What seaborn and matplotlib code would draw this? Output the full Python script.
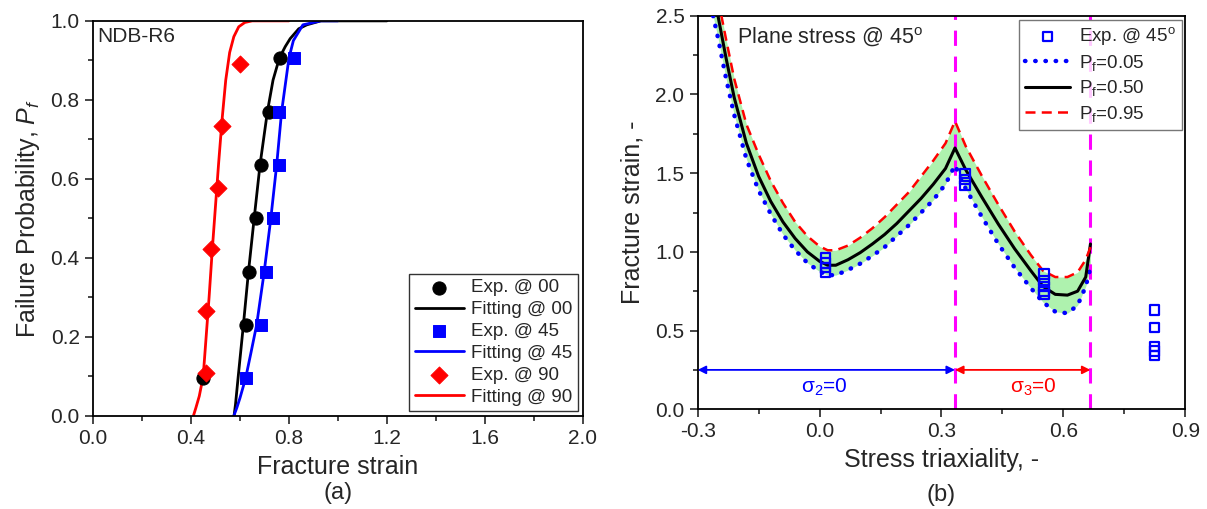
import numpy as np
import matplotlib
matplotlib.use('Agg')
import matplotlib.pyplot as plt
import seaborn as sns
from matplotlib.ticker import MultipleLocator

# (a) experimental points, median ranks
exp00_x = [0.45, 0.623, 0.638, 0.666, 0.685, 0.72, 0.764]
exp00_y = [0.095, 0.23, 0.365, 0.50, 0.635, 0.77, 0.905]
exp45_x = [0.623, 0.686, 0.707, 0.734, 0.758, 0.758, 0.82]
exp45_y = [0.095, 0.23, 0.365, 0.50, 0.635, 0.77, 0.905]
exp90_x = [0.461, 0.461, 0.48, 0.512, 0.525, 0.60]
exp90_y = [0.109, 0.266, 0.422, 0.578, 0.734, 0.891]

# (a) fitted curves
fit00_x = [0.576, 0.582, 0.593, 0.614, 0.634, 0.658, 0.682, 0.712, 0.735, 0.761, 0.785, 0.805, 0.84, 0.873, 0.93, 1.0, 1.2]
fit00_y = [0.0, 0.03, 0.10, 0.23, 0.36, 0.50, 0.636, 0.77, 0.85, 0.906, 0.935, 0.955, 0.98, 0.99, 1.0, 1.0, 1.0]
fit45_x = [0.575, 0.587, 0.60, 0.623, 0.645, 0.668, 0.698, 0.726, 0.75, 0.77, 0.80, 0.818, 0.857, 0.93, 1.0]
fit45_y = [0.0, 0.02, 0.045, 0.095, 0.16, 0.23, 0.36, 0.50, 0.636, 0.77, 0.906, 0.95, 0.99, 1.0, 1.0]
fit90_x = [0.41, 0.42, 0.434, 0.45, 0.462, 0.474, 0.487, 0.50, 0.513, 0.527, 0.542, 0.558, 0.575, 0.595, 0.62, 0.65, 0.70, 0.80]
fit90_y = [0.0, 0.02, 0.05, 0.10, 0.20, 0.30, 0.42, 0.53, 0.64, 0.75, 0.85, 0.92, 0.96, 0.985, 0.996, 1.0, 1.0, 1.0]

# (b) fracture locus for Pf = 0.05 / 0.50 / 0.95
triax = [-0.262, -0.25, -0.23, -0.21, -0.18, -0.15, -0.12, -0.09, -0.06, -0.03, 0.0, 0.02, 0.04, 0.07,
         0.10, 0.13, 0.16, 0.19, 0.22, 0.25, 0.28, 0.31, 0.3333,
         0.36, 0.40, 0.44, 0.48, 0.52, 0.55, 0.58, 0.61, 0.635, 0.655, 0.6667]
pf50 = [2.66, 2.50, 2.23, 1.98, 1.69, 1.48, 1.32, 1.19, 1.085, 1.00, 0.94, 0.915, 0.915, 0.95,
        0.995, 1.05, 1.11, 1.18, 1.26, 1.34, 1.43, 1.53, 1.66,
        1.52, 1.345, 1.176, 1.02, 0.88, 0.78, 0.73, 0.725, 0.75, 0.84, 1.05]
pf95 = [2.72, 2.61, 2.35, 2.10, 1.81, 1.62, 1.45, 1.31, 1.19, 1.10, 1.035, 1.01, 1.01, 1.04,
        1.09, 1.15, 1.22, 1.30, 1.38, 1.48, 1.58, 1.69, 1.83,
        1.67, 1.48, 1.30, 1.13, 0.98, 0.88, 0.84, 0.84, 0.87, 0.95, 1.03]
pf05 = [2.50, 2.36, 2.10, 1.87, 1.59, 1.39, 1.24, 1.11, 1.01, 0.93, 0.875, 0.852, 0.852, 0.885,
        0.925, 0.975, 1.03, 1.10, 1.17, 1.25, 1.33, 1.43, 1.55,
        1.40, 1.22, 1.05, 0.90, 0.77, 0.68, 0.62, 0.61, 0.66, 0.78, 0.90]

# (b) experiments @ 45
expb_x = [0.015, 0.015, 0.015, 0.015, 0.358, 0.358, 0.358,
          0.552, 0.552, 0.552, 0.552, 0.552, 0.824, 0.824, 0.824, 0.824, 0.824]
expb_y = [0.87, 0.90, 0.93, 0.96, 1.42, 1.46, 1.50,
          0.73, 0.75, 0.78, 0.82, 0.86, 0.63, 0.52, 0.40, 0.37, 0.34]

sns.set_theme(style='ticks')
plt.rcParams['font.family'] = ['Liberation Sans', 'DejaVu Sans']
plt.rcParams['mathtext.fontset'] = 'custom'
plt.rcParams['mathtext.rm'] = 'Liberation Sans'
plt.rcParams['mathtext.it'] = 'Liberation Sans:italic'
plt.rcParams['axes.unicode_minus'] = False
plt.rcParams['xtick.direction'] = 'out'
plt.rcParams['ytick.direction'] = 'out'

fig = plt.figure(figsize=(12.07, 5.09), dpi=100)
ax1 = fig.add_axes([0.077, 0.183, 0.406, 0.776])
ax2 = fig.add_axes([0.578, 0.196, 0.404, 0.773])

# ---------- (a) ----------
sns.scatterplot(x=exp00_x, y=exp00_y, marker='o', color='black', edgecolor='black', s=90, ax=ax1, label='Exp. @ 00', zorder=3)
sns.lineplot(x=fit00_x, y=fit00_y, color='black', lw=2, ax=ax1, label='Fitting @ 00', estimator=None)
sns.scatterplot(x=exp45_x, y=exp45_y, marker='s', color='#0000ff', edgecolor='#0000ff', s=75, ax=ax1, label='Exp. @ 45', zorder=3)
sns.lineplot(x=fit45_x, y=fit45_y, color='#0000ff', lw=2, ax=ax1, label='Fitting @ 45', estimator=None)
sns.scatterplot(x=exp90_x, y=exp90_y, marker='D', color='#ff0000', edgecolor='#ff0000', s=75, ax=ax1, label='Exp. @ 90', zorder=3)
sns.lineplot(x=fit90_x, y=fit90_y, color='#ff0000', lw=2, ax=ax1, label='Fitting @ 90', estimator=None)

ax1.set_xlim(0, 2.0)
ax1.set_ylim(0, 1.0)
ax1.xaxis.set_major_locator(MultipleLocator(0.4))
ax1.xaxis.set_minor_locator(MultipleLocator(0.2))
ax1.yaxis.set_major_locator(MultipleLocator(0.2))
ax1.yaxis.set_minor_locator(MultipleLocator(0.1))
ax1.set_xlabel('Fracture strain', fontsize=18, labelpad=5)
ax1.set_ylabel('Failure Probability, $P_f$', fontsize=18, labelpad=6)
ax1.text(0.5, -0.195, '(a)', transform=ax1.transAxes, ha='center', va='center', fontsize=17)
ax1.text(0.008, 0.985, 'NDB-R6', transform=ax1.transAxes, ha='left', va='top', fontsize=15)
leg1 = ax1.legend(loc='lower right', fontsize=13.5, frameon=True, fancybox=False, edgecolor='black',
                  handlelength=2.6, borderpad=0.3, labelspacing=0.25, handletextpad=0.4,
                  borderaxespad=0.25)
leg1.get_frame().set_linewidth(1.0)

# ---------- (b) ----------
ax2.fill_between(triax, pf05, pf95, color='#aef2ae', lw=0, zorder=1)
sns.scatterplot(x=expb_x, y=expb_y, marker='s', s=45, facecolors='none', edgecolors='#0000ff', linewidths=1.6,
                ax=ax2, label='Exp. @ 45$^{\\rm o}$', zorder=4)
sns.lineplot(x=triax, y=pf05, color='#0000ff', lw=3.2, linestyle=(0, (0.1, 2.2)), dash_capstyle='round',
             ax=ax2, label='P$_{\\rm f}$=0.05', estimator=None, sort=False, zorder=3)
sns.lineplot(x=triax, y=pf50, color='black', lw=2.2, ax=ax2, label='P$_{\\rm f}$=0.50', estimator=None,
             sort=False, zorder=3)
sns.lineplot(x=triax, y=pf95, color='#ff0000', lw=1.8, linestyle=(0, (4, 2.5)), ax=ax2, label='P$_{\\rm f}$=0.95',
             estimator=None, sort=False, zorder=3)

for xv in [1/3, 2/3]:
    ax2.axvline(xv, color='#ff00ff', lw=2.2, linestyle=(0, (5, 3.5)), zorder=2)

ax2.annotate('', xy=(1/3, 0.25), xytext=(-0.3, 0.25),
             arrowprops=dict(arrowstyle='<|-|>', color='#0000ff', lw=1.3, mutation_scale=12, shrinkA=0, shrinkB=0))
ax2.annotate('', xy=(2/3, 0.25), xytext=(1/3, 0.25),
             arrowprops=dict(arrowstyle='<|-|>', color='#ff0000', lw=1.3, mutation_scale=12, shrinkA=0, shrinkB=0))
ax2.text(0.013, 0.14, 'σ$_2$=0', color='#0000ff', ha='center', va='center', fontsize=15)
ax2.text(0.526, 0.14, 'σ$_3$=0', color='#ff0000', ha='center', va='center', fontsize=15)
ax2.text(0.08, 0.975, 'Plane stress @ 45$^{\\rm o}$', transform=ax2.transAxes, ha='left', va='top', fontsize=15.5)

ax2.set_xlim(-0.3, 0.9)
ax2.set_ylim(0, 2.5)
ax2.xaxis.set_major_locator(MultipleLocator(0.3))
ax2.xaxis.set_minor_locator(MultipleLocator(0.15))
ax2.yaxis.set_major_locator(MultipleLocator(0.5))
ax2.yaxis.set_minor_locator(MultipleLocator(0.25))
ax2.set_xlabel('Stress triaxiality, -', fontsize=18, labelpad=5)
ax2.set_ylabel('Fracture strain, -', fontsize=18, labelpad=8)
ax2.text(0.5, -0.219, '(b)', transform=ax2.transAxes, ha='center', va='center', fontsize=17)
leg2 = ax2.legend(loc='upper right', fontsize=13.5, frameon=True, fancybox=False, edgecolor='#555555',
                  handlelength=2.4, borderpad=0.3, labelspacing=0.3, handletextpad=0.5, borderaxespad=0.2)
leg2.get_frame().set_linewidth(1.0)

for ax in (ax1, ax2):
    ax.tick_params(axis='both', which='major', labelsize=15, length=6, width=1.2, top=False, right=False)
    ax.tick_params(axis='both', which='minor', length=3.5, width=1.2, top=False, right=False)
    for sp in ax.spines.values():
        sp.set_visible(True)
        sp.set_linewidth(1.3)
        sp.set_color('black')

fig.savefig('out.png', dpi=100, facecolor='white')
